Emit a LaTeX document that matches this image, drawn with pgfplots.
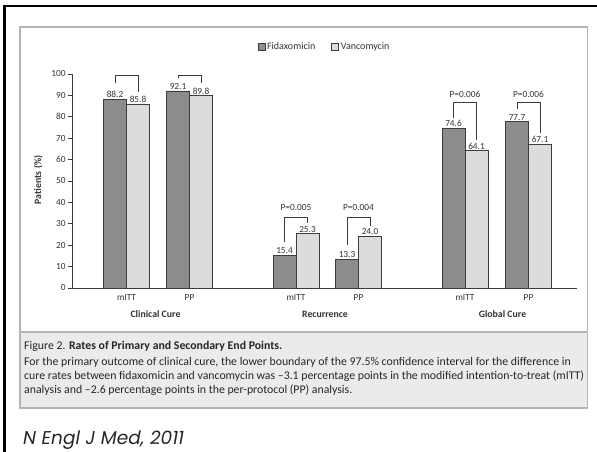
\documentclass[border=0pt]{standalone}
\usepackage{fontspec}
\setmainfont{Carlito}
\newfontfamily\pop{Poppins}
\usepackage{pgfplots}
\pgfplotsset{compat=1.18}
\definecolor{fida}{HTML}{8C8C8C}
\definecolor{vanc}{HTML}{DCDCDC}
\definecolor{txt}{HTML}{333333}
\definecolor{edge}{HTML}{3C3C3C}
\definecolor{panel}{HTML}{B4B4B4}
\definecolor{capbg}{HTML}{EBEBEB}
\begin{document}
\begin{tikzpicture}[x=1pt,y=1pt]
\useasboundingbox (0,0) rectangle (597,452);
% slide frame
\fill[black] (3,0) rectangle (6,447);
\fill[black] (3,444.5) rectangle (597,447);
% figure panel
\draw[panel, line width=1.1pt] (20,44) rectangle (587.5,425);
\filldraw[fill=capbg, draw=panel, line width=1.1pt] (20,44) rectangle (587.5,120);
\begin{axis}[
  at={(72pt,164pt)}, anchor=south west,
  scale only axis, width=505pt, height=214pt,
  xmin=72, xmax=577, ymin=0, ymax=100,
  axis lines=left,
  axis line style={edge, -, line width=0.8pt},
  ytick={0,10,...,100},
  tick align=outside, major tick length=4pt,
  y tick style={edge, line width=0.8pt},
  xtick={126.5,189.5,296,358.5,465,528.5},
  xticklabels={mITT,PP,mITT,PP,mITT,PP},
  x tick style={draw=none},
  tick label style={font=\fontsize{9.3}{10}\selectfont, text=txt},
  yticklabel style={xshift=1pt},
  xticklabel style={yshift=1pt},
  /pgf/number format/assume math mode=true,
  ybar=0pt, bar width=23,
  nodes near coords,
  nodes near coords style={font=\fontsize{9.3}{10}\selectfont, text=txt, inner sep=1.2pt,
     /pgf/number format/.cd, fixed, precision=1, zerofill, assume math mode=true},
  ylabel={\bfseries Patients (\%)},
  ylabel style={at={(axis description cs:-0.067,0.505)}, rotate=0, anchor=center,
     font=\fontsize{9.8}{11}\selectfont, text=txt},
  legend style={at={(axis description cs:0.5,1.126)}, anchor=center, draw=none, fill=none,
     legend columns=2, font=\fontsize{10}{11}\selectfont, text=txt,
     /tikz/every even column/.append style={column sep=14pt}},
  clip=false,
]
\addplot[fill=fida, draw=edge, line width=0.8pt,
  legend image code/.code={\draw[fill=fida,draw=edge,line width=0.6pt] (0pt,-3.5pt) rectangle (7pt,3.5pt);}]
  coordinates {(126.5,88.2) (189.5,92.1) (296,15.4) (358.5,13.3) (465,74.6) (528.5,77.7)};
\addplot[fill=vanc, draw=edge, line width=0.8pt,
  legend image code/.code={\draw[fill=vanc,draw=edge,line width=0.6pt] (0pt,-3.5pt) rectangle (7pt,3.5pt);}]
  coordinates {(126.5,85.8) (189.5,89.8) (296,25.3) (358.5,24.0) (465,64.1) (528.5,67.1)};
\legend{Fidaxomicin, Vancomycin}
% brackets
\draw[edge, line width=0.8pt] (axis cs:115,95.8) |- (axis cs:138,99.5) -- (axis cs:138,91.6);
\draw[edge, line width=0.8pt] (axis cs:178,98.0) |- (axis cs:201,99.5) -- (axis cs:201,95.8);
\draw[edge, line width=0.8pt] (axis cs:284.5,21.5) |- (axis cs:307.5,33.2) -- (axis cs:307.5,30.4);
\draw[edge, line width=0.8pt] (axis cs:347,20.1) |- (axis cs:370,33.2) -- (axis cs:370,29.0);
\draw[edge, line width=0.8pt] (axis cs:453.5,79.4) |- (axis cs:476.5,86.9) -- (axis cs:476.5,69.2);
\draw[edge, line width=0.8pt] (axis cs:517,83.6) |- (axis cs:540,86.9) -- (axis cs:540,72.4);
\begin{scope}[every node/.style={font=\fontsize{9.3}{10}\selectfont, text=txt}]
\node at (axis cs:296,37.4) {P=0.005};
\node at (axis cs:358.5,37.4) {P=0.004};
\node at (axis cs:465,90.7) {P=0.006};
\node at (axis cs:528.5,90.7) {P=0.006};
\end{scope}
\begin{scope}[every node/.style={font=\bfseries\fontsize{9.8}{11}\selectfont, text=txt}]
\node at (axis cs:155.5,-12.1) {Clinical Cure};
\node at (axis cs:325,-12.1) {Recurrence};
\node at (axis cs:502.5,-12.1) {Global Cure};
\end{scope}
\end{axis}
% caption
\begin{scope}[every node/.style={anchor=base west, inner sep=0pt, font=\fontsize{11.8}{13}\selectfont, text=black!85}]
\node at (24,102) {Figure 2. \textbf{Rates of Primary and Secondary End Points.}};
\node at (24,86) {For the primary outcome of clinical cure, the lower boundary of the 97.5\% confidence interval for the difference in};
\node at (24,72) {cure rates between fidaxomicin and vancomycin was –3.1 percentage points in the modified intention-to-treat (mITT)};
\node at (24,58.5) {analysis and –2.6 percentage points in the per-protocol (PP) analysis.};
\end{scope}
\node[anchor=base west, inner sep=0pt, font=\pop\itshape\fontsize{18.5}{22}\selectfont, text=black!85] at (23,7) {N Engl J Med, 2011};
\end{tikzpicture}
\end{document}
